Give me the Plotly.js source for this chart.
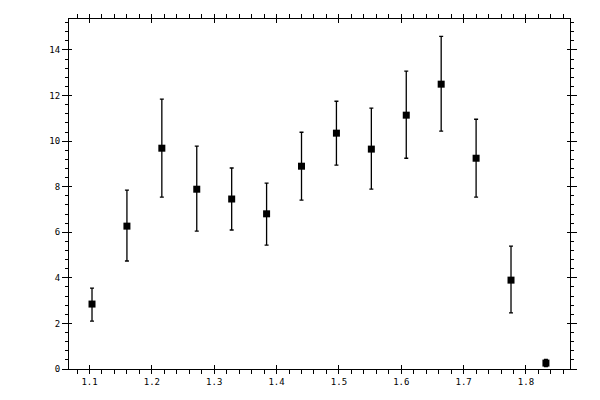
<!DOCTYPE html>
<html>
<head>
<meta charset="utf-8">
<script src="https://cdn.plot.ly/plotly-3.0.1.min.js"></script>
<style>
  html, body { margin: 0; padding: 0; background: #fff; }
  #plot { width: 600px; height: 400px; }
</style>
</head>
<body>
<div id="plot"></div>
<script>
// values
const xValues = [1.104, 1.160, 1.216, 1.272, 1.328, 1.384, 1.440, 1.496, 1.552, 1.608, 1.664, 1.720, 1.776, 1.832];
const yValues = [2.85, 6.27, 9.69, 7.89, 7.46, 6.81, 8.90, 10.35, 9.65, 11.14, 12.50, 9.25, 3.90, 0.26];
const yHigh   = [3.55, 7.85, 11.84, 9.78, 8.82, 8.16, 10.39, 11.75, 11.45, 13.07, 14.60, 10.96, 5.39, 0.42];
const yLow    = [2.10, 4.74, 7.54, 6.05, 6.10, 5.44, 7.41, 8.95, 7.89, 9.25, 10.44, 7.54, 2.46, 0.10];

const xTicks = [1.1, 1.2, 1.3, 1.4, 1.5, 1.6, 1.7, 1.8];
const xTickLabels = ['1.1', '1.2', '1.3', '1.4', '1.5', '1.6', '1.7', '1.8'];
const yTicks = [0, 2, 4, 6, 8, 10, 12, 14];
const yTickLabels = ['0', '2', '4', '6', '8', '10', '12', '14'];

const xRange = [1.0671, 1.8706];
const yRange = [0, 15.36];

var points = {
  x: xValues,
  y: yValues,
  mode: 'markers',
  type: 'scatter',
  marker: { symbol: 'square', size: 7, color: '#000' },
  error_y: {
    type: 'data',
    symmetric: false,
    array: yHigh.map((h, i) => h - yValues[i]),
    arrayminus: yValues.map((v, i) => v - yLow[i]),
    color: '#000',
    thickness: 1.3,
    width: 2
  },
  showlegend: false,
  hoverinfo: 'x+y'
};

// empty trace so the overlay axes (inner half of the major ticks) get drawn
var overlay = {
  x: [], y: [], xaxis: 'x2', yaxis: 'y2',
  mode: 'markers', showlegend: false, hoverinfo: 'skip'
};

var tickFont = { family: 'DejaVu Sans Mono', size: 9, color: '#000' };

var layout = {
  width: 600,
  height: 400,
  margin: { l: 69, r: 30, t: 19, b: 31 },
  paper_bgcolor: '#fff',
  plot_bgcolor: '#fff',
  font: tickFont,
  xaxis: {
    range: xRange,
    tickvals: xTicks,
    ticktext: xTickLabels,
    ticks: 'outside',
    ticklen: 4,
    tickwidth: 1,
    tickcolor: '#000',
    showline: true,
    linecolor: '#000',
    linewidth: 1,
    mirror: 'allticks',
    showgrid: false,
    zeroline: false,
    tickfont: tickFont,
    minor: { dtick: 0.02, tick0: 1.0, ticks: 'outside', ticklen: 4, tickwidth: 1, tickcolor: '#000', showgrid: false }
  },
  yaxis: {
    range: yRange,
    tickvals: yTicks,
    ticktext: yTickLabels,
    ticks: 'outside',
    ticklen: 6,
    tickwidth: 1,
    tickcolor: '#000',
    showline: true,
    linecolor: '#000',
    linewidth: 1,
    mirror: 'allticks',
    showgrid: false,
    zeroline: false,
    tickfont: tickFont,
    minor: { dtick: 0.4, tick0: 0, ticks: 'outside', ticklen: 3, tickwidth: 1, tickcolor: '#000', showgrid: false }
  },
  xaxis2: {
    overlaying: 'x',
    anchor: 'y2',
    range: xRange,
    tickvals: xTicks,
    ticks: 'inside',
    ticklen: 4,
    tickwidth: 1,
    tickcolor: '#000',
    mirror: 'allticks',
    showline: false,
    showticklabels: false,
    showgrid: false,
    zeroline: false
  },
  yaxis2: {
    overlaying: 'y',
    anchor: 'x2',
    range: yRange,
    tickvals: yTicks,
    ticks: 'inside',
    ticklen: 3,
    tickwidth: 1,
    tickcolor: '#000',
    mirror: 'allticks',
    showline: false,
    showticklabels: false,
    showgrid: false,
    zeroline: false
  }
};

Plotly.newPlot('plot', [points, overlay], layout, { displayModeBar: false, staticPlot: true });
</script>
</body>
</html>
